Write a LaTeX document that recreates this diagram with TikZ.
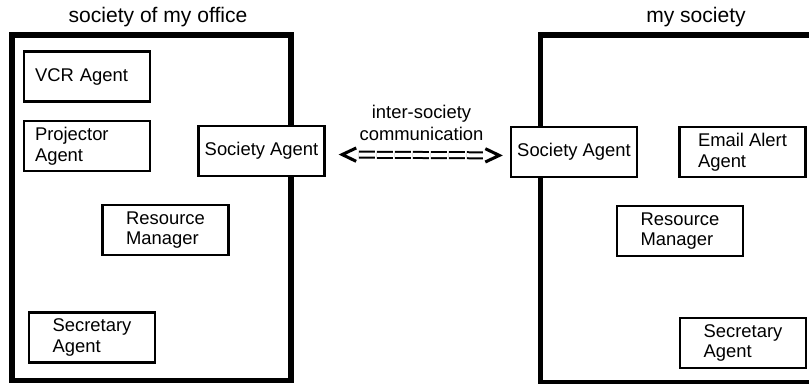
\documentclass[tikz,border=0pt]{standalone}
\usepackage{fontspec}
\setmainfont{Liberation Sans}
\usetikzlibrary{arrows.meta,positioning}

\begin{document}
\begin{tikzpicture}[
    x=0.75pt, y=-0.75pt,
    society/.style={draw, line width=4.3pt},
    agent/.style={draw, fill=white, line width=1.7pt, minimum width=94.5pt, minimum height=37.5pt, align=left, font=\fontsize{13.8pt}{15.5pt}\selectfont},
    padded/.style={text width=78pt, inner xsep=8.25pt},
    title/.style={anchor=base, font=\fontsize{15.8pt}{18pt}\selectfont},
    commtip/.style={line width=2.3pt, dash pattern=on 0pt off 2000pt, {Straight Barb[length=10.5pt, width=10pt]}-{Straight Barb[length=10.5pt, width=10pt]}},
    commline/.style={double, line width=1.5pt, double distance=3pt, dash pattern=on 12pt off 1.5pt}
]
    \useasboundingbox (0,0) rectangle (809,383);
    \clip (0,0) rectangle (809,383);

    % the two societies
    \draw[society] (12,35) rectangle (291.3,380.5);
    \draw[society] (540.5,35) rectangle (840,382.5);
    \node[title] (office) at (158,22) {society of my office};
    \node[title] (mine) at (696,22) {my society};

    % society of my office
    \node[agent, padded] (vcr) at (87,76.5) {VCR Agent};
    \node[agent, padded, below=13.1pt of vcr] (proj) {Projector\\Agent};
    \node[agent] (sa1) at (261.5,151) {Society Agent};
    \node[agent] (rm1) at (165.5,230) {Resource\\Manager};
    \node[agent] (sec1) at (92,337.5) {Secretary\\Agent};

    % my society
    \node[agent] (sa2) at (574,152) {Society Agent};
    \node[agent] (mail) at (742.5,152) {Email Alert\\Agent};
    \node[agent] (rm2) at (680,231) {Resource\\Manager};
    \node[agent] (sec2) at (743,343) {Secretary\\Agent};

    % inter-society link
    \node[align=center, font=\fontsize{13.8pt}{17pt}\selectfont] (comm) at (421.5,123) {inter-society\\communication};
    \draw[commtip, shorten <=9.75pt, shorten >=5.25pt] ([yshift=-2.6pt]sa1.east) -- ([yshift=-2.6pt]sa2.west);
    \draw[commline, shorten <=25pt, shorten >=19.5pt] ([yshift=-2.6pt]sa1.east) -- ([yshift=-2.6pt]sa2.west);
\end{tikzpicture}
\end{document}
